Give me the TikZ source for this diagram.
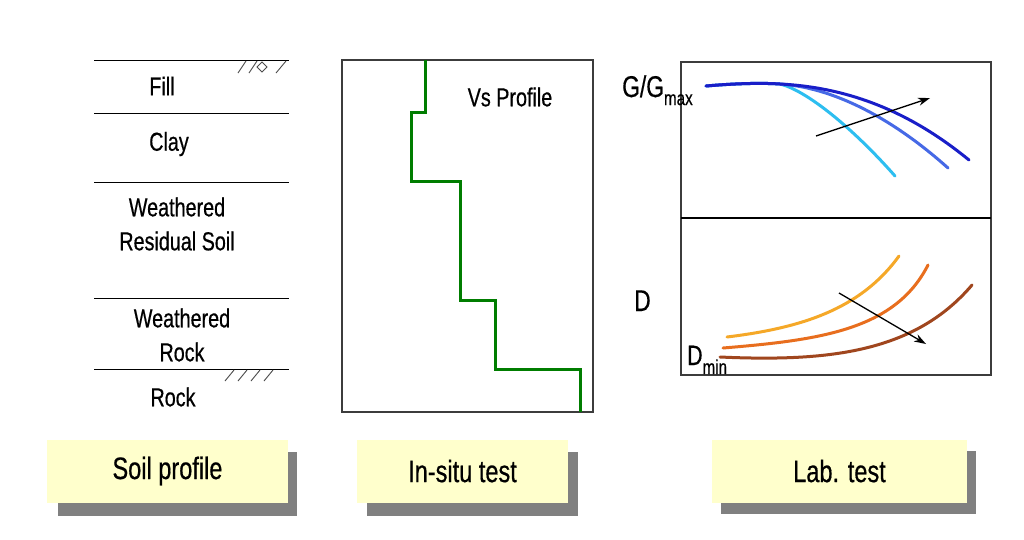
\documentclass[tikz,border=0pt]{standalone}
\usepackage{fontspec}
\setmainfont{Liberation Sans}[FakeStretch=0.76, FakeBold=0.5]
\usetikzlibrary{arrows.meta}
\definecolor{labyellow}{RGB}{255,255,204}
\definecolor{shadowgray}{RGB}{128,128,128}
\definecolor{vsgreen}{RGB}{0,125,0}
\definecolor{framegray}{RGB}{60,60,60}
\definecolor{cyanc}{RGB}{45,190,240}
\definecolor{midblue}{RGB}{70,105,230}
\definecolor{darkblue}{RGB}{25,30,200}
\definecolor{lorange}{RGB}{245,168,40}
\definecolor{morange}{RGB}{232,110,30}
\definecolor{brownc}{RGB}{160,70,30}
\tikzset{
  soiltext/.style={font=\fontsize{26}{34}\selectfont, align=center, inner sep=0pt},
  layerline/.style={line width=1pt, black},
  hatch/.style={line width=0.9pt, black!70},
  frame/.style={line width=1.2pt, framegray},
  vsline/.style={line width=3pt, vsgreen, line join=miter},
  curve/.style={line width=3pt, line cap=round},
  trend/.style={line width=1.3pt, black, -{Stealth[length=12pt,width=8pt]}},
  shadowbox/.style={fill=shadowgray, draw=none},
  labelbox/.style={fill=labyellow, draw=none, font=\fontsize{31}{34}\selectfont},
  axlabel/.style={font=\fontsize{30}{32}\selectfont, inner sep=0pt}
}
\begin{document}
\begin{tikzpicture}[x=1pt,y=-1pt]
\useasboundingbox (0,0) rectangle (1024,539);
\fill[white] (0,0) rectangle (1024,539);

% ---------- Soil profile ----------
\foreach \yy in {60,113,182,298,369}
  \draw[layerline] (94,\yy) -- (289,\yy);
% fill hatch
\draw[hatch] (238,73) -- (246,61);
\draw[hatch] (249,73) -- (257,61);
\draw[hatch] (257,67) -- (262,62) -- (267,67) -- (262,72) -- cycle;
\draw[hatch] (276,73) -- (286,61);
% rock hatch
\foreach \xx in {225,238,251,264}
  \draw[hatch] (\xx,381) -- (\xx+9,370);
\node[soiltext] (fill) at (162,86) {Fill};
\node[soiltext] (clay) at (169,144) {Clay};
\node[soiltext] (wrs) at (177,224) {Weathered\\Residual Soil};
\node[soiltext] (wr) at (182,335) {Weathered\\Rock};
\node[soiltext] (rock) at (173,397) {Rock};

% ---------- In-situ ----------
\draw[frame] (342,60) rectangle (593,412);
\draw[vsline] (425,60) -- (425,112) -- (411,112) -- (411,181) -- (460,181)
  -- (460,300) -- (495,300) -- (495,369) -- (580,369) -- (580,412);
\node[soiltext] (vs) at (510,97) {Vs Profile};

% ---------- Lab test ----------
\draw[frame] (681,62) rectangle (991,375);
\draw[line width=2.2pt, black] (681,218) -- (991,218);
\node[axlabel, anchor=base west] (ggmax) at (622,97)
  {G/G\raisebox{-8pt}{\fontsize{20}{20}\selectfont max}};
\node[axlabel, anchor=base west] (dlab) at (634,311) {D};
\node[axlabel, anchor=base west, font=\fontsize{28}{30}\selectfont] (dmin) at (687,365)
  {D\raisebox{-9pt}{\fontsize{20}{20}\selectfont min}};

% blue curves
\draw[curve, cyanc] (706,86) .. controls (740,83) and (765,83) .. (780,84)
  .. controls (805,90) and (850,125) .. (895,176);
\draw[curve, midblue] (706,86) .. controls (740,83) and (765,83) .. (780,84)
  .. controls (840,88) and (900,125) .. (948,168);
\draw[curve, darkblue] (706,86) .. controls (740,83) and (765,83) .. (780,84)
  .. controls (860,88) and (920,120) .. (969,160);
\coordinate (ga) at (816,136);
\coordinate (gb) at (930,98);
\draw[trend] (ga) -- (gb);

% orange curves
\draw[curve, lorange] (727,337) .. controls (800,328) and (860,310) .. (899,256);
\draw[curve, morange] (723,348) .. controls (820,340) and (895,330) .. (928,265);
\draw[curve, brownc] (720,357) .. controls (830,362) and (915,352) .. (972,285);
\coordinate (da) at (839,293);
\coordinate (db) at (926,344);
\draw[trend] (da) -- (db);

% ---------- Label boxes ----------
\fill[shadowbox] (58,452) rectangle (297,516);
\node[labelbox, minimum width=241pt, minimum height=63pt] (soilbox) at (167.5,471) {Soil profile};
\fill[shadowbox] (367,452) rectangle (578,516);
\node[labelbox, minimum width=211pt, minimum height=63pt] (insitubox) at (462.5,471) {In-situ test};
\fill[shadowbox] (721,451) rectangle (976,514);
\node[labelbox, minimum width=255pt, minimum height=63pt] (labbox) at (839.5,471) {Lab. test};
\end{tikzpicture}
\end{document}
